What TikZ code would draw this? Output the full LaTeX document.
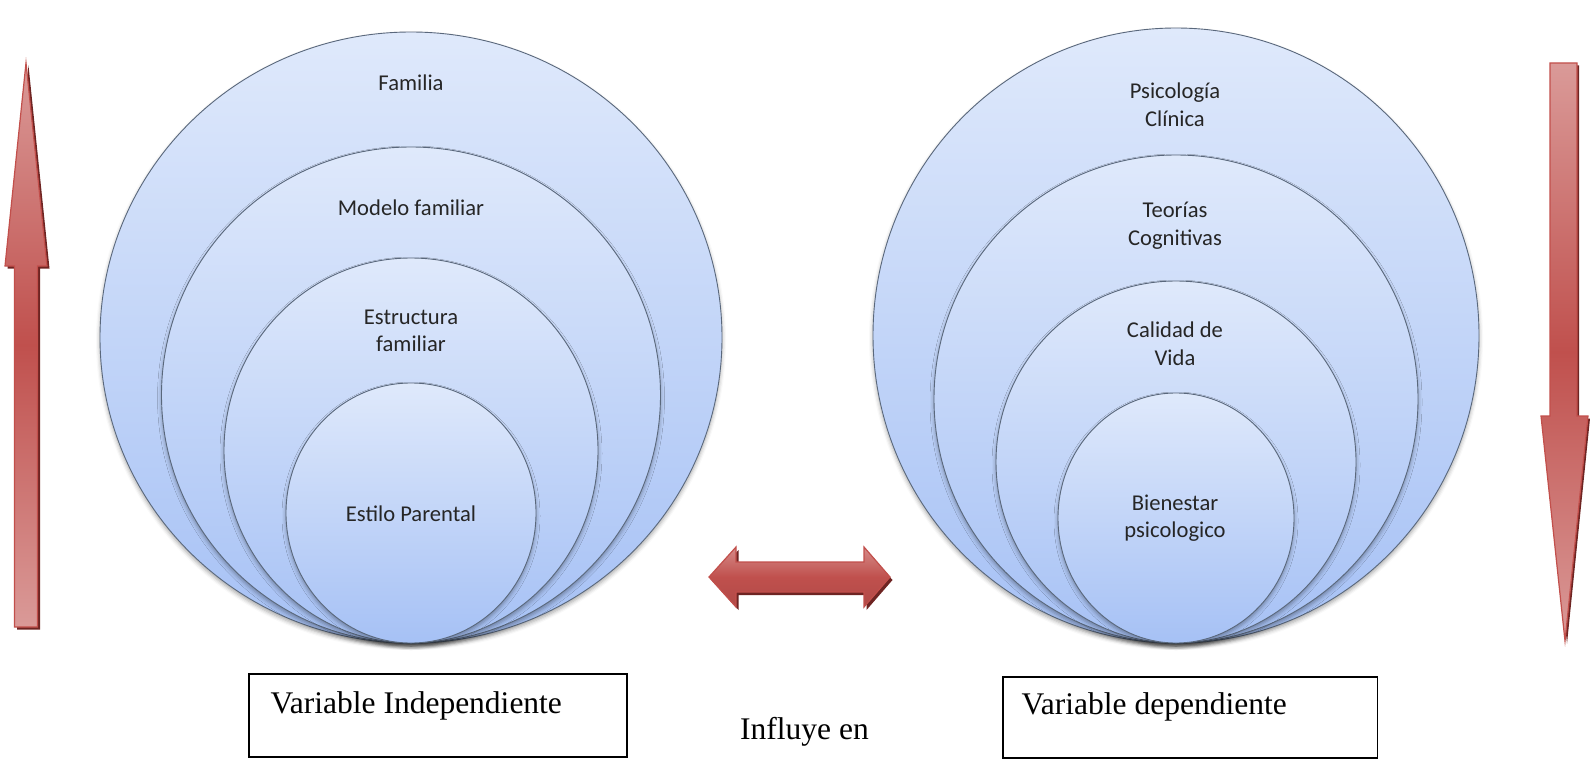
\documentclass[tikz,border=0pt]{standalone}
\usepackage{fontspec}
\setmainfont{Liberation Serif}
\newfontfamily\calibri{Carlito}
\usetikzlibrary{shapes.geometric,shadows.blur}

\definecolor{ringtop}{HTML}{DFE9FB}
\definecolor{ringbot}{HTML}{A6C1F5}
\definecolor{ringline}{HTML}{5A687C}
\definecolor{arrowmid}{HTML}{C0504D}
\definecolor{arrowlight}{HTML}{DA9A98}
\definecolor{arrowline}{HTML}{C24F4B}
\definecolor{arrowshade}{HTML}{6E2422}

\tikzset{
  ring/.style={ellipse, draw=ringline, line width=0.9pt,
    top color=ringtop, bottom color=ringbot, inner sep=0pt,
    blur shadow={shadow xshift=0pt, shadow yshift=-3pt,
      shadow blur radius=4pt, shadow opacity=35}},
  ringtext/.style={font=\calibri\fontsize{22.6}{27.6}\selectfont,
    text=black!85, align=center, inner sep=0pt},
  varbox/.style={draw=black, line width=1.6pt, inner sep=0pt},
  vartext/.style={font=\fontsize{31.5}{37}\selectfont, inner sep=0pt, anchor=base west},
  vshade/.style={top color=arrowlight, bottom color=arrowlight, middle color=arrowmid,
    draw=arrowline, line width=1.2pt, line join=miter},
  hshade/.style={top color=arrowlight!80!arrowmid, bottom color=arrowmid!92!black, middle color=arrowmid,
    draw=arrowline, line width=1.2pt, line join=miter},
  arrowdrop/.style={fill=arrowshade, draw=none},
}

\begin{document}
\begin{tikzpicture}[x=1pt, y=-1pt]
\useasboundingbox (0,0) rectangle (1590,760);

% ---- nested rings, left group
\node[ring, minimum width=622pt, minimum height=611pt] (L1) at (411,337.5) {};
\node[ring, minimum width=499pt, minimum height=496pt] (L2) at (411,395) {};
\node[ring, minimum width=374pt, minimum height=385pt] (L3) at (411,450.5) {};
\node[ring, minimum width=250pt, minimum height=260pt] (L4) at (411,513) {};

\node[ringtext] (tFam) at (411,83) {Familia};
\node[ringtext] (tMod) at (411,208) {Modelo familiar};
\node[ringtext] (tEst) at (411,331) {Estructura\\familiar};
\node[ringtext] (tPar) at (411,514) {Estilo Parental};

% ---- nested rings, right group
\node[ring, minimum width=606pt, minimum height=615pt] (R1) at (1176,335.5) {};
\node[ring, minimum width=484pt, minimum height=488pt] (R2) at (1176,399) {};
\node[ring, minimum width=360pt, minimum height=362pt] (R3) at (1176,462) {};
\node[ring, minimum width=236pt, minimum height=250pt] (R4) at (1176,518) {};

\node[ringtext] (tPsi) at (1175,105) {Psicología\\Clínica};
\node[ringtext] (tTeo) at (1175,226) {Teorías\\Cognitivas};
\node[ringtext] (tCal) at (1175,344) {Calidad de\\Vida};
\node[ringtext] (tBie) at (1175,518) {Bienestar\\psicologico};

% ---- upward arrow on the left
\coordinate (uT)  at (26,63);
\coordinate (uHR) at (47,266);
\coordinate (uSR) at (37.5,266);
\coordinate (uBR) at (37.5,627);
\coordinate (uBL) at (14.5,627);
\coordinate (uSL) at (14.5,266);
\coordinate (uHL) at (5,266);
\fill[arrowdrop, transform canvas={xshift=2.5pt, yshift=-2.5pt}]
  (uT) -- (uHR) -- (uSR) -- (uBR) -- (uBL) -- (uSL) -- (uHL) -- cycle;
\path[vshade] (uT) -- (uHR) -- (uSR) -- (uBR) -- (uBL) -- (uSL) -- (uHL) -- cycle;

% ---- downward arrow on the right
\coordinate (dTL) at (1550,63);
\coordinate (dTR) at (1577,63);
\coordinate (dSR) at (1577,416);
\coordinate (dHR) at (1588,416);
\coordinate (dT)  at (1565,641);
\coordinate (dHL) at (1541,416);
\coordinate (dSL) at (1550,416);
\fill[arrowdrop, transform canvas={xshift=2pt, yshift=-2.5pt}]
  (dTL) -- (dTR) -- (dSR) -- (dHR) -- (dT) -- (dHL) -- (dSL) -- cycle;
\path[vshade] (dTL) -- (dTR) -- (dSR) -- (dHR) -- (dT) -- (dHL) -- (dSL) -- cycle;

% ---- double arrow between the groups
\coordinate (hL)   at (709,577);
\coordinate (hLT)  at (736,547);
\coordinate (hLST) at (736,562);
\coordinate (hRST) at (864,562);
\coordinate (hRT)  at (864,547);
\coordinate (hR)   at (890,577);
\coordinate (hRB)  at (864,607);
\coordinate (hRSB) at (864,592);
\coordinate (hLSB) at (736,592);
\coordinate (hLB)  at (736,607);
\fill[arrowdrop, transform canvas={xshift=2.5pt, yshift=-3pt}]
  (hL) -- (hLT) -- (hLST) -- (hRST) -- (hRT) -- (hR) -- (hRB) -- (hRSB) -- (hLSB) -- (hLB) -- cycle;
\path[hshade]
  (hL) -- (hLT) -- (hLST) -- (hRST) -- (hRT) -- (hR) -- (hRB) -- (hRSB) -- (hLSB) -- (hLB) -- cycle;

% ---- caption boxes
\node[varbox, minimum width=378pt, minimum height=83pt] (lbox) at (438,715.5) {};
\node[vartext] (ltext) at (270.5,713) {Variable Independiente};
\node[varbox, minimum width=374.5pt, minimum height=81pt] (rbox) at (1190.25,717.5) {};
\node[vartext] (rtext) at (1021.5,714) {Variable dependiente};
\node[vartext] (mid) at (740,739) {Influye en};
\end{tikzpicture}
\end{document}
